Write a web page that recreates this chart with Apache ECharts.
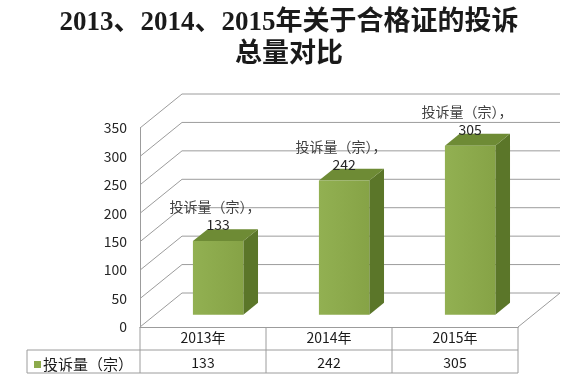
<!DOCTYPE html>
<html>
<head>
<meta charset="utf-8">
<script src="https://cdn.jsdelivr.net/npm/echarts@6/dist/echarts.min.js"></script>
<style>
html,body{margin:0;padding:0;background:#fff;}
#chart{width:578px;height:380px;}
</style>
</head>
<body>
<div id="chart"></div>
<script>
// ---- data ----
const categories = ['2013年', '2014年', '2015年'];
const seriesName = '投诉量（宗）';
const values = [133, 242, 305];
const yTicks = [0, 50, 100, 150, 200, 250, 300, 350];
const titleText = '2013、2014、2015年关于合格证的投诉\n总量对比';

// ---- styling / layout helpers ----
const DEPTH = [42, -34];
const BAR_FRONT = 0.36;
const BAR_DEPTH = 0.35;
const GRID_COLOR = '#9c9c9c';
const TABLE_ROW = 23;
const FONT = '"Noto Sans CJK SC", "Noto Sans", sans-serif';

const chart = echarts.init(document.getElementById('chart'), null, {renderer: 'canvas'});

function renderGrid(params, api) {
  const cs = params.coordSys;
  const t = api.value(0);
  const y = api.coord([0, t])[1];
  const left = cs.x, right = cs.x + cs.width;
  const style = {stroke: GRID_COLOR, lineWidth: 1, fill: null};
  const children = [{
    type: 'polyline',
    shape: {points: [[left, y], [left + DEPTH[0], y + DEPTH[1]], [right + DEPTH[0], y + DEPTH[1]]]},
    style: style, silent: true
  }];
  if (t === 0) {
    children.push({
      type: 'line',
      shape: {x1: right, y1: y, x2: right + DEPTH[0], y2: y + DEPTH[1]},
      style: style, silent: true
    });
  }
  return {type: 'group', children: children};
}

function renderBar(params, api) {
  const ci = api.value(0), v = api.value(1);
  const base = api.coord([ci, 0]);
  const topP = api.coord([ci, v]);
  const band = api.size([1, 0])[0];
  const w = band * 0.4;
  const k = 0.975;
  const dx0 = DEPTH[0] * BAR_FRONT, dy0 = DEPTH[1] * BAR_FRONT;
  const bx = DEPTH[0] * BAR_DEPTH, by = DEPTH[1] * BAR_DEPTH;
  const x0 = base[0] - w / 2 + dx0, x1 = x0 + w;
  const yb = base[1] + dy0;
  const yt = base[1] + (topP[1] - base[1]) * k + dy0;
  const cx = (x0 + x1) / 2;
  return {
    type: 'group',
    children: [
      {type: 'polygon', shape: {points: [[x1, yt], [x1 + bx, yt + by], [x1 + bx, yb + by], [x1, yb]]},
        style: {fill: '#5b7629'}},
      {type: 'polygon', shape: {points: [[x0, yt], [x1, yt], [x1 + bx, yt + by], [x0 + bx, yt + by]]},
        style: {fill: '#6e8b35'}},
      {type: 'rect', shape: {x: x0, y: yt, width: w, height: yb - yt},
        style: {fill: new echarts.graphic.LinearGradient(0, 0, 1, 0, [
          {offset: 0, color: '#92b052'}, {offset: 1, color: '#86a346'}])}},
      {type: 'text', x: cx - 3, y: yt - 34,
        style: {text: seriesName + '，', fill: '#404040', font: '14px ' + FONT, align: 'center', verticalAlign: 'middle'}},
      {type: 'text', x: cx, y: yt - 16,
        style: {text: String(v), fill: '#262626', font: '14px ' + FONT, align: 'center', verticalAlign: 'middle'}}
    ]
  };
}

function renderTable(params, api) {
  const ci = api.value(0), v = api.value(1);
  const p = api.coord([ci, 0]);
  const band = api.size([1, 0])[0];
  const lx = p[0] - band / 2, rx = lx + band;
  const y0 = p[1];
  const y1 = y0 + TABLE_ROW, y2 = y0 + TABLE_ROW * 2;
  const style = {stroke: GRID_COLOR, lineWidth: 1};
  const ch = [
    {type: 'line', shape: {x1: rx, y1: y0, x2: rx, y2: y2}, style: style},
    {type: 'line', shape: {x1: lx, y1: y1, x2: rx, y2: y1}, style: style},
    {type: 'line', shape: {x1: lx, y1: y2, x2: rx, y2: y2}, style: style},
    {type: 'text', x: p[0], y: y0 + TABLE_ROW * 1.5 + 1,
      style: {text: String(v), fill: '#1a1a1a', font: '14px ' + FONT, align: 'center', verticalAlign: 'middle'}}
  ];
  if (ci === 0) {
    const leftCell = lx - 113;
    ch.push({type: 'line', shape: {x1: lx, y1: y0, x2: lx, y2: y2}, style: style});
    ch.push({type: 'line', shape: {x1: leftCell, y1: y1, x2: lx, y2: y1}, style: style});
    ch.push({type: 'line', shape: {x1: leftCell, y1: y2, x2: lx, y2: y2}, style: style});
    ch.push({type: 'line', shape: {x1: leftCell, y1: y1, x2: leftCell, y2: y2}, style: style});
  }
  return {type: 'group', children: ch};
}

const option = {
  animation: false,
  backgroundColor: '#fff',
  title: {
    text: titleText,
    left: 'center', top: 2,
    textStyle: {fontSize: 27, fontWeight: 'bold', color: '#1a1a1a', lineHeight: 32,
      fontFamily: '"Liberation Serif", "Noto Sans CJK SC", serif'}
  },
  legend: {
    data: [seriesName],
    left: 29, top: 352,
    icon: 'rect', itemWidth: 7, itemHeight: 7, itemGap: 0,
    textStyle: {fontSize: 15, color: '#1a1a1a', fontFamily: FONT, padding: [0, 0, 0, -3]},
    selectedMode: false
  },
  grid: {left: 140, right: 60, top: 128, bottom: 53},
  xAxis: {
    type: 'category', data: categories, boundaryGap: true,
    axisLine: {show: true, lineStyle: {color: GRID_COLOR}},
    axisTick: {show: false},
    axisLabel: {color: '#1a1a1a', fontSize: 14, margin: 4, fontFamily: FONT}
  },
  yAxis: {
    type: 'value', min: 0, max: 350, interval: 50,
    axisLine: {show: true, lineStyle: {color: GRID_COLOR}},
    axisTick: {show: false},
    splitLine: {show: false},
    axisLabel: {color: '#262626', fontSize: 14, margin: 13, fontFamily: FONT}
  },
  series: [
    {
      type: 'custom', name: 'grid', z: 1, silent: true,
      renderItem: renderGrid,
      data: yTicks.map(t => [t])
    },
    {
      type: 'custom', name: 'table', z: 2, silent: true,
      renderItem: renderTable,
      data: values.map((v, i) => [i, v])
    },
    {
      type: 'custom', name: seriesName, z: 3,
      itemStyle: {color: '#8caa4b'},
      renderItem: renderBar,
      data: values.map((v, i) => [i, v])
    }
  ]
};
chart.setOption(option);
</script>
</body>
</html>
